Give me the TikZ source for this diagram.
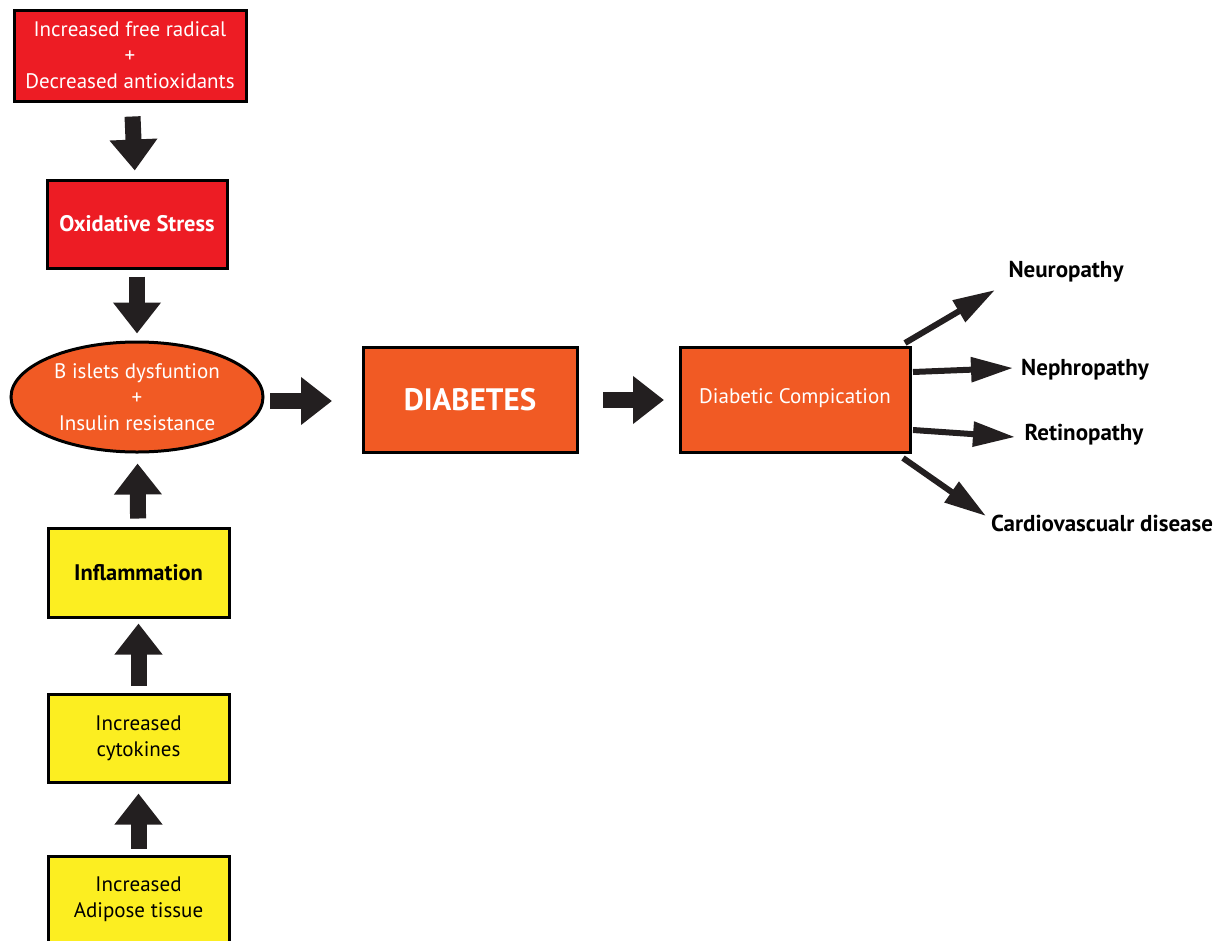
\documentclass[tikz,border=0pt]{standalone}
\usepackage{fontspec}
\setmainfont{PT Sans}
\usetikzlibrary{arrows.meta,shapes.geometric}
\definecolor{cred}{HTML}{ED1C24}
\definecolor{corange}{HTML}{F15A24}
\definecolor{cyellow}{HTML}{FCEE21}
\definecolor{cdark}{HTML}{231F20}
\tikzset{
  box/.style={draw=black, line width=3pt, rectangle, align=center, inner sep=0pt},
  redbox/.style={box, fill=cred, text=white},
  orbox/.style={box, fill=corange, text=white},
  yelbox/.style={box, fill=cyellow, text=black},
  fat/.style={draw=cdark, line width=16pt, -{Triangle[width=46pt,length=31pt]}},
  thin/.style={draw=cdark, line width=6pt, -{Triangle[width=24pt,length=42pt]}},
  txt/.style={font=\fontsize{21}{26}\selectfont},
  btxt/.style={font=\fontsize{22.5}{26}\selectfont\bfseries},
  lab/.style={font=\fontsize{23}{26}\selectfont\bfseries, text=black, inner sep=0pt}
}
\begin{document}
\begin{tikzpicture}[x=1pt,y=-1pt]
\useasboundingbox (0,0) rectangle (1221,940);
\clip (0,0) rectangle (1221,940);
\node[redbox, txt, minimum width=232pt, minimum height=91pt] (b1) at (130,55.5) {Increased free radical\\+\\Decreased antioxidants};
\node[redbox, btxt, minimum width=180pt, minimum height=88pt] (b2) at (137,224) {Oxidative Stress};
\node[draw=black, line width=3pt, ellipse, fill=corange, text=white, txt, align=center, inner sep=0pt, minimum width=252pt, minimum height=110pt] (el) at (137,397) {B islets dysfuntion\\+\\Insulin resistance};
\node[yelbox, btxt, minimum width=181pt, minimum height=89pt] (inf) at (138.5,572.5) {Inflammation};
\node[yelbox, txt, minimum width=181pt, minimum height=88pt] (cyt) at (138.5,738) {Increased\\cytokines};
\node[yelbox, txt, minimum width=181pt, minimum height=86pt] (adi) at (138.5,899) {Increased\\Adipose tissue};
\node[orbox, font=\fontsize{31}{34}\selectfont\bfseries, minimum width=214pt, minimum height=105pt] (dia) at (470,399.5) {DIABETES};
\node[orbox, txt, minimum width=230pt, minimum height=105pt] (comp) at (795,399.5) {\raisebox{7pt}{Diabetic Compication}};

\draw[fat, shorten <=14pt, shorten >=8pt] (b1) -- (b2);
\draw[fat, shorten <=7pt, shorten >=7pt] (b2) -- (el);
\draw[fat, shorten <=8pt, shorten >=10pt] (inf) -- (el);
\draw[fat, shorten <=7pt, shorten >=5pt] (cyt) -- (inf);
\draw[fat, shorten <=6pt, shorten >=10pt] (adi) -- (cyt);
\coordinate (e6s) at (270,401);
\coordinate (e6e) at (332,401);
\coordinate (e7s) at (603,400);
\coordinate (e7e) at (664,400);
\draw[fat] (e6s) -- (e6e);
\draw[fat] (e7s) -- (e7e);

\node[lab] (neu) at (1066,272) {Neuropathy};
\node[lab] (nep) at (1085,370) {Nephropathy};
\node[lab] (ret) at (1084,435) {Retinopathy};
\node[lab] (car) at (1102,523) {Cardiovascualr disease};
\coordinate (s1) at (905,343);
\coordinate (t1) at (995,290);
\coordinate (s2) at (913,372);
\coordinate (t2) at (1013,368);
\coordinate (s3) at (913,430);
\coordinate (t3) at (1015,437);
\coordinate (s4) at (903,458);
\coordinate (t4) at (986,516);
\draw[thin] (s1) -- (t1);
\draw[thin] (s2) -- (t2);
\draw[thin] (s3) -- (t3);
\draw[thin] (s4) -- (t4);
\end{tikzpicture}
\end{document}
